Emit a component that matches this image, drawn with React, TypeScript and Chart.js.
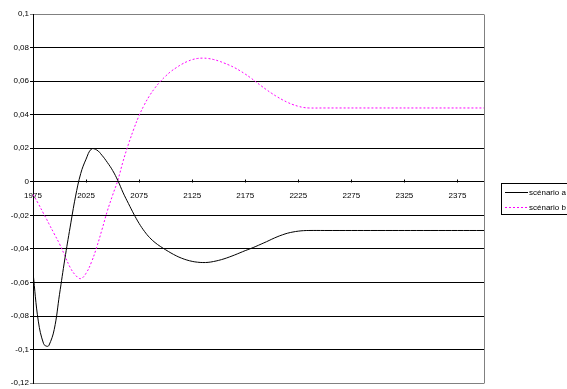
import React, { useEffect, useRef } from "react";
import { Chart, registerables } from "chart.js";

Chart.register(...registerables);

const years: number[] = [
  1975, 1980, 1985, 1988, 1990, 1995, 2000, 2005, 2010, 2015, 2020, 2025, 2030, 2035, 2040,
  2045, 2050, 2055, 2060, 2065, 2070, 2075, 2080, 2085, 2090, 2095, 2100, 2105, 2110, 2115, 2120,
  2125, 2130, 2135, 2140, 2145, 2150, 2155, 2160, 2165, 2170, 2175, 2180, 2185, 2190, 2195, 2200,
  2205, 2210, 2215, 2220, 2225, 2230, 2235, 2250, 2300, 2350, 2400,
];

const scenarioA: number[] = [
  -0.054, -0.083, -0.0965, -0.098, -0.0975, -0.088, -0.067, -0.046, -0.027, -0.009, 0.005,
  0.0135, 0.0195, 0.019, 0.0158, 0.0116, 0.0068, 0.0007, -0.0066, -0.013, -0.0192, -0.0248,
  -0.0295, -0.0333, -0.0362, -0.0385, -0.0405, -0.0424, -0.0441, -0.0455, -0.0466, -0.0474,
  -0.0479, -0.0481, -0.048, -0.0475, -0.0468, -0.0459, -0.0448, -0.0436, -0.0423, -0.041,
  -0.0398, -0.0385, -0.0371, -0.0357, -0.0342, -0.0328, -0.0316, -0.0306, -0.0299, -0.0294,
  -0.0291, -0.029, -0.029, -0.029, -0.029, -0.029,
];

const scenarioB: number[] = [
  -0.0075, -0.013, -0.019, -0.0225, -0.025, -0.031, -0.037, -0.044, -0.051, -0.0556, -0.0577,
  -0.0545, -0.048, -0.039, -0.0285, -0.0175, -0.008, 0.001, 0.0125, 0.0225, 0.0315, 0.0395,
  0.046, 0.0515, 0.056, 0.0598, 0.063, 0.0658, 0.068, 0.07, 0.0716, 0.0728, 0.0735, 0.0737,
  0.0735, 0.0729, 0.072, 0.0708, 0.0695, 0.068, 0.0662, 0.0642, 0.062, 0.0596, 0.0572, 0.0549,
  0.0527, 0.0507, 0.0489, 0.0473, 0.046, 0.045, 0.0443, 0.044, 0.044, 0.044, 0.044, 0.044,
];

const xTickYears: number[] = [1975, 2025, 2075, 2125, 2175, 2225, 2275, 2325, 2375];
const seriesNames: string[] = ["scénario a", "scénario b"];

const FONT = "'Liberation Sans', Arial, sans-serif";

const fmt = (v: number) => {
  const r = Math.round(v * 100) / 100;
  return String(r).replace(".", ",");
};

const decorPlugin = {
  id: "decor",
  afterDraw(chart: any) {
    const { ctx, chartArea } = chart;
    const xs = chart.scales.x;
    const ys = chart.scales.y;
    ctx.save();
    ctx.strokeStyle = "#808080";
    ctx.lineWidth = 1;
    ctx.beginPath();
    const rx = Math.round(chartArea.right) + 0.5;
    ctx.moveTo(rx, Math.round(chartArea.top) + 0.5);
    ctx.lineTo(rx, Math.round(chartArea.bottom) + 0.5);
    ctx.stroke();
    const y0 = Math.round(ys.getPixelForValue(0)) + 0.5;
    ctx.strokeStyle = "#000";
    ctx.beginPath();
    xTickYears.forEach((yr, i) => {
      if (i === 0) return;
      const px = Math.round(xs.getPixelForValue(yr)) + 0.5;
      ctx.moveTo(px, y0 - 3);
      ctx.lineTo(px, y0);
    });
    ctx.stroke();
    const lx = 501.5;
    const ly = 183.5;
    ctx.strokeStyle = "#000";
    ctx.strokeRect(lx, ly, 70, 31);
    const rows = [
      { name: seriesNames[0], color: "#000000", dash: [] as number[] },
      { name: seriesNames[1], color: "#FF00FF", dash: [2, 2] },
    ];
    ctx.font = `8px ${FONT}`;
    ctx.textBaseline = "middle";
    ctx.fillStyle = "#000";
    rows.forEach((r, i) => {
      const yy = 192.5 + i * 15;
      ctx.strokeStyle = r.color;
      ctx.setLineDash(r.dash);
      ctx.beginPath();
      ctx.moveTo(505, yy);
      ctx.lineTo(528, yy);
      ctx.stroke();
      ctx.setLineDash([]);
      ctx.fillText(r.name, 529, yy);
    });
    ctx.restore();
  },
};

export default function App() {
  const ref = useRef<HTMLCanvasElement>(null);
  useEffect(() => {
    if (!ref.current) return;
    const chart = new Chart(ref.current, {
      type: "line",
      data: {
        datasets: [
          {
            label: seriesNames[0],
            data: years.map((x, i) => ({ x, y: scenarioA[i] })),
            borderColor: "#000000",
            borderWidth: 1,
            pointRadius: 0,
            tension: 0.4,
            fill: false,
          },
          {
            label: seriesNames[1],
            data: years.map((x, i) => ({ x, y: scenarioB[i] })),
            borderColor: "#FF00FF",
            borderWidth: 1,
            borderDash: [2, 2],
            pointRadius: 0,
            tension: 0.4,
            fill: false,
          },
        ],
      },
      options: {
        animation: false,
        responsive: false,
        devicePixelRatio: 1,
        layout: { padding: { top: 14, bottom: 5, right: 83, left: 0 } },
        plugins: {
          legend: { display: false },
          tooltip: { enabled: false },
        },
        scales: {
          x: {
            type: "linear",
            min: 1975,
            max: 2400,
            position: { y: 0 } as any,
            afterBuildTicks: (scale: any) => {
              scale.ticks = xTickYears.map((v) => ({ value: v }));
            },
            grid: { drawOnChartArea: false, drawTicks: false },
            border: { display: true, color: "#000", width: 1 },
            ticks: {
              autoSkip: false,
              maxRotation: 0,
              padding: 9,
              color: "#000",
              font: { family: FONT, size: 8 },
              callback: (v: any) => String(v),
            },
          },
          y: {
            type: "linear",
            min: -0.12,
            max: 0.1,
            afterFit: (scale: any) => {
              scale.width = 33;
            },
            grid: {
              color: (c: any) => {
                const v = c.tick ? c.tick.value : 0;
                return Math.abs(v - 0.1) < 1e-6 || Math.abs(v + 0.12) < 1e-6 ? "#808080" : "#000";
              },
              lineWidth: 1,
              drawTicks: true,
              tickLength: 3,
            },
            border: { display: true, color: "#000", width: 1 },
            ticks: {
              stepSize: 0.02,
              padding: 1,
              color: "#000",
              font: { family: FONT, size: 8 },
              callback: (v: any) => fmt(Number(v)),
            },
          },
        },
      },
      plugins: [decorPlugin],
    });
    return () => chart.destroy();
  }, []);
  return (
    <div style={{ position: "absolute", left: 0, top: 0, width: 567, height: 389, background: "#fff" }}>
      <canvas ref={ref} width={567} height={389} style={{ width: 567, height: 389 }} />
    </div>
  );
}
